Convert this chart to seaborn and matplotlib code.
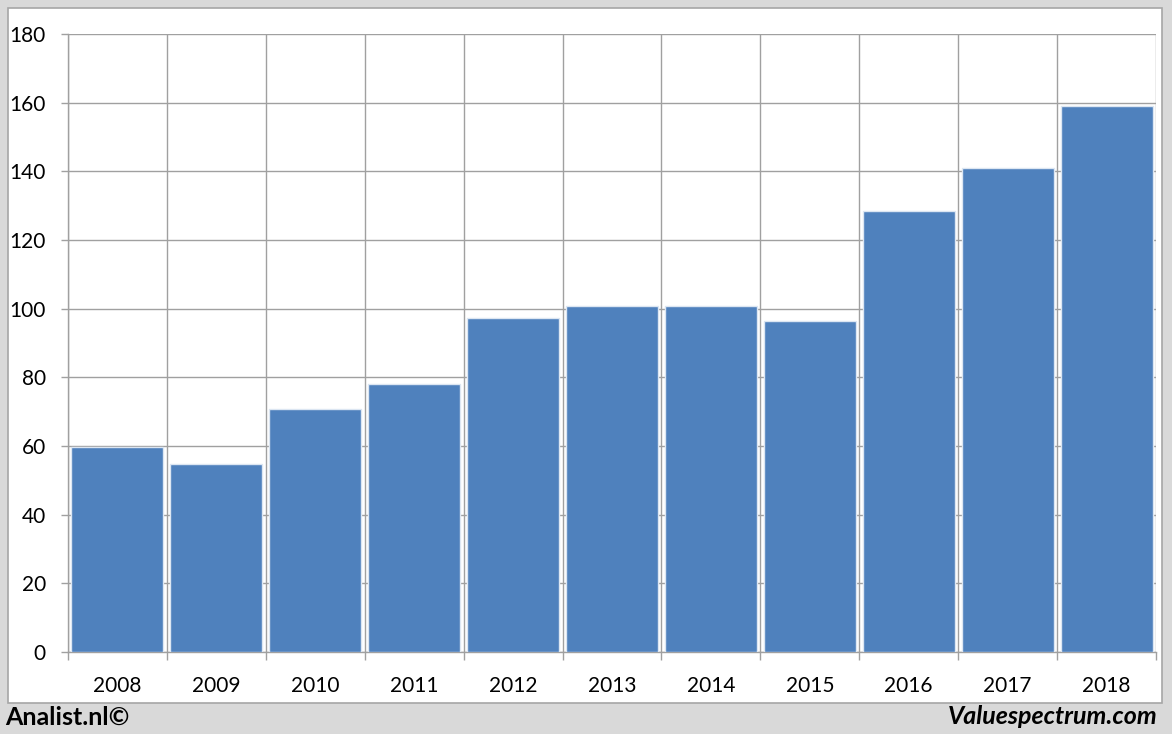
import matplotlib
matplotlib.use("Agg")
import matplotlib.pyplot as plt
from matplotlib.patches import Rectangle
from matplotlib.ticker import FixedLocator, MultipleLocator
import seaborn as sns
import pandas as pd
import numpy as np

years = ["2008", "2009", "2010", "2011", "2012", "2013", "2014", "2015", "2016", "2017", "2018"]
values = [59.7, 54.8, 70.8, 78.1, 97.3, 100.8, 100.8, 96.4, 128.5, 141.0, 159.0]
footer_left = "Analist.nl©"
footer_right = "Valuespectrum.com"

sns.set_theme(style="white")
plt.rcParams["font.family"] = ["Lato", "DejaVu Sans"]

W, H = 1172, 734
fig = plt.figure(figsize=(W / 100, H / 100), dpi=100)
fig.patch.set_facecolor("#d9d9d9")
panel = Rectangle((8 / W, 1 - 703 / H), (1162 - 8) / W, (703 - 8) / H,
                  transform=fig.transFigure, facecolor="white",
                  edgecolor="#a6a6a6", linewidth=1.2, zorder=-10)
fig.patches.append(panel)

ax = fig.add_axes([68 / W, 1 - 652 / H, (1156 - 68) / W, (652 - 34) / H])
ax.set_zorder(5)
ax.set_facecolor("none")

df = pd.DataFrame({"year": years, "value": values})
sns.barplot(data=df, x="year", y="value", ax=ax, color="#4f81bd", saturation=1,
            width=0.93, edgecolor="#dce6f2", linewidth=1.0, zorder=3)

n = len(years)
ax.set_xlim(-0.5, n - 0.5)
ax.set_ylim(0, 180)
ax.yaxis.set_major_locator(MultipleLocator(20))
ax.xaxis.set_minor_locator(FixedLocator(np.arange(-0.5, n, 1.0)))
ax.set_axisbelow(True)

ax.grid(True, axis="y", which="major", color="#a0a0a0", linewidth=1.0)
ax.grid(True, axis="x", which="minor", color="#a0a0a0", linewidth=1.0)
ax.grid(False, axis="x", which="major")

for s in ["top", "right"]:
    ax.spines[s].set_visible(False)
for s in ["left", "bottom"]:
    ax.spines[s].set_color("#a0a0a0")
    ax.spines[s].set_linewidth(1.0)

ax.tick_params(axis="x", which="major", length=0, pad=17, labelsize=15, colors="black")
ax.tick_params(axis="x", which="minor", length=6, width=1, color="#a0a0a0", direction="out", bottom=True)
ax.tick_params(axis="y", which="major", length=5, width=1, color="#a0a0a0", direction="out",
               pad=11, labelsize=15, labelcolor="black", left=True)
ax.set_xlabel("")
ax.set_ylabel("")

fig.text(5 / W, 1 - 717 / H, footer_left, fontsize=18, fontweight="bold",
         ha="left", va="center", color="black")
fig.text(1158 / W, 1 - 717 / H, footer_right, fontsize=18, fontweight="bold",
         fontstyle="italic", ha="right", va="center", color="black")

fig.savefig("out.png", dpi=100, facecolor=fig.get_facecolor())
